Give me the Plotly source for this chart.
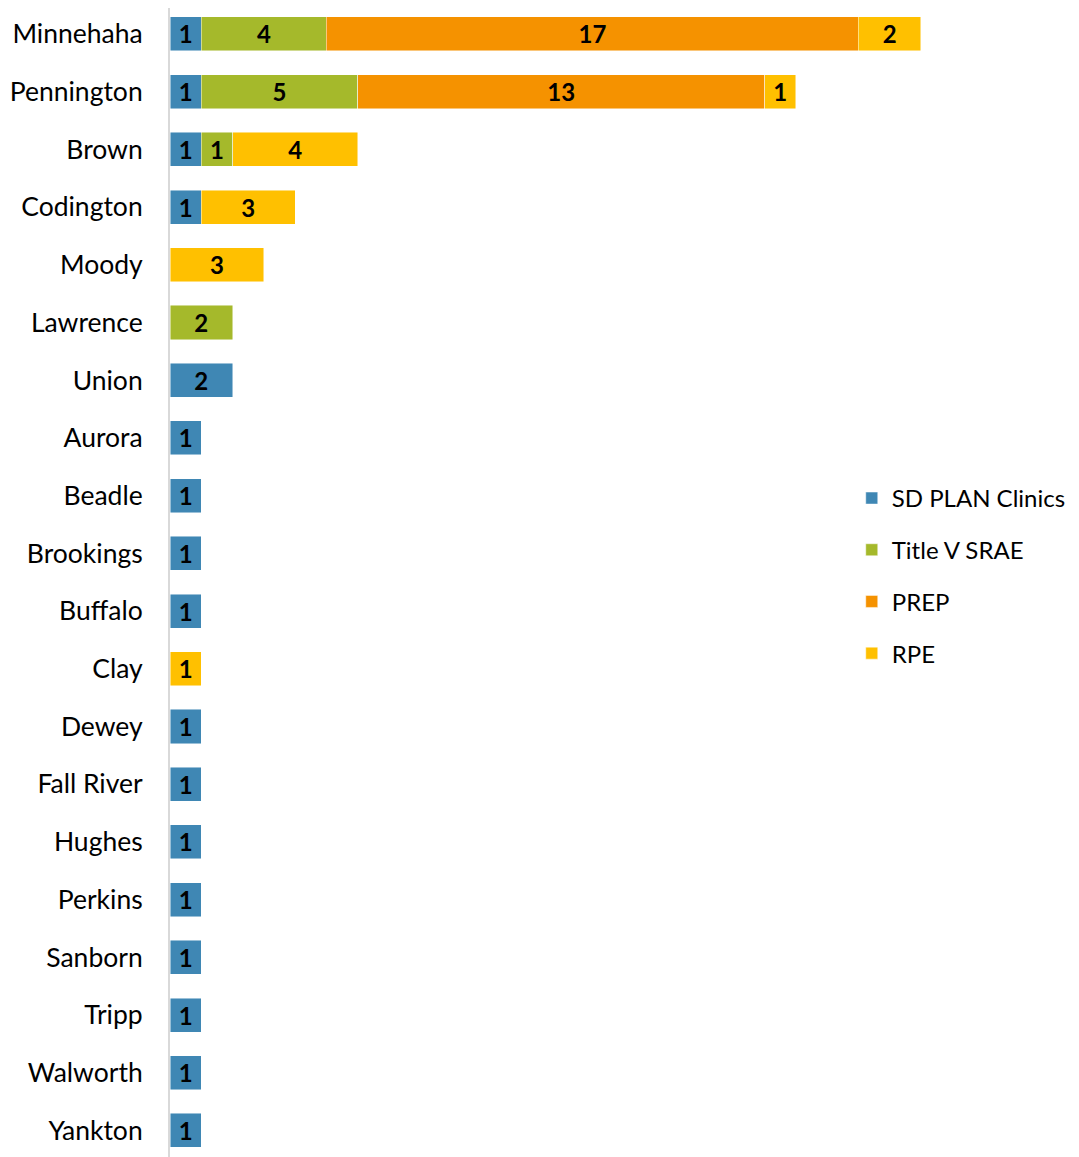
import plotly.graph_objects as go

counties = ["Minnehaha", "Pennington", "Brown", "Codington", "Moody", "Lawrence", "Union",
            "Aurora", "Beadle", "Brookings", "Buffalo", "Clay", "Dewey", "Fall River",
            "Hughes", "Perkins", "Sanborn", "Tripp", "Walworth", "Yankton"]
sd_plan = [1, 1, 1, 1, 0, 0, 2, 1, 1, 1, 1, 0, 1, 1, 1, 1, 1, 1, 1, 1]
title_v = [4, 5, 1, 0, 0, 2, 0, 0, 0, 0, 0, 0, 0, 0, 0, 0, 0, 0, 0, 0]
prep    = [17, 13, 0, 0, 0, 0, 0, 0, 0, 0, 0, 0, 0, 0, 0, 0, 0, 0, 0, 0]
rpe     = [2, 1, 4, 3, 3, 0, 0, 0, 0, 0, 0, 1, 0, 0, 0, 0, 0, 0, 0, 0]

series = [
    ("SD PLAN Clinics", sd_plan, "#3F87B4"),
    ("Title V SRAE", title_v, "#A5B92B"),
    ("PREP", prep, "#F59200"),
    ("RPE", rpe, "#FFC000"),
]

FONT = "Lato"
fig = go.Figure()
for i, (name, vals, color) in enumerate(series):
    fig.add_trace(go.Bar(
        name=name,
        y=counties,
        x=[v if v else None for v in vals],
        orientation="h",
        marker=dict(color=color, line=dict(color="rgba(255,255,255,0.6)", width=0.8)),
        text=[str(v) if v else "" for v in vals],
        textposition="inside",
        insidetextanchor="middle",
        textangle=0,
        constraintext="none",
        textfont=dict(family=FONT, size=24, color="black", weight="bold"),
        legendgroup=name,
        hoverinfo="skip",
    ))

fig.update_layout(
    barmode="stack",
    width=1071, height=1149,
    margin=dict(l=162, r=0, t=0, b=0, autoexpand=False),
    plot_bgcolor="white", paper_bgcolor="white",
    bargap=0.41,
    showlegend=True,
    legend=dict(x=0.750, y=0.5057, xanchor="left", yanchor="middle",
                font=dict(family=FONT, size=24, color="black"),
                tracegroupgap=17.5, itemwidth=30,
                traceorder="grouped"),
    font=dict(family=FONT, color="black"),
)
fig.update_xaxes(range=[0, 29.05], visible=False, fixedrange=True, automargin=False)
fig.update_yaxes(range=[19.46, -0.45], showline=True, linecolor="#D9D9D9", linewidth=2,
                 showgrid=False, ticks="", ticklabelstandoff=20, automargin=False,
                 tickfont=dict(family=FONT, size=26.5, color="black"))

fig.write_html("out.html")
